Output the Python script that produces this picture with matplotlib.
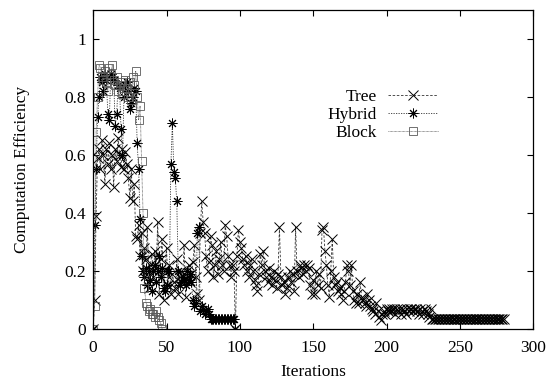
import matplotlib
matplotlib.use("Agg")
import matplotlib.pyplot as plt
import numpy as np

plt.rcParams.update({
    "font.family": ["Liberation Serif", "DejaVu Serif"],
    "font.size": 12.5,
    "axes.linewidth": 0.9,
    "xtick.direction": "in",
    "ytick.direction": "in",
    "xtick.top": True,
    "ytick.right": True,
    "xtick.major.size": 4,
    "ytick.major.size": 4,
    "xtick.major.pad": 8,
    "ytick.major.pad": 5,
})

# Computation efficiency per iteration.
tree = [
    0.00, 0.10, 0.39, 0.59, 0.62, 0.55, 0.65, 0.60, 0.50, 0.62,
    0.57, 0.64, 0.55, 0.60, 0.49, 0.62, 0.58, 0.66, 0.60, 0.56,
    0.62, 0.55, 0.61, 0.57, 0.52, 0.45, 0.55, 0.44, 0.50, 0.32,
    0.31, 0.36, 0.25, 0.33, 0.20, 0.28, 0.24, 0.35, 0.14, 0.22,
    0.26, 0.18, 0.27, 0.21, 0.37, 0.12, 0.24, 0.31, 0.10, 0.20,
    0.28, 0.15, 0.22, 0.12, 0.19, 0.16, 0.14, 0.24, 0.12, 0.18,
    0.20, 0.17, 0.29, 0.11, 0.17, 0.22, 0.16, 0.19, 0.23, 0.29,
    0.18, 0.12, 0.10, 0.33, 0.44, 0.37, 0.33, 0.25, 0.20, 0.23,
    0.32, 0.29, 0.18, 0.22, 0.27, 0.19, 0.24, 0.30, 0.22, 0.20,
    0.36, 0.32, 0.25, 0.22, 0.18, 0.22, 0.20, 0.00, 0.25, 0.34,
    0.30, 0.28, 0.24, 0.22, 0.25, 0.20, 0.18, 0.22, 0.24, 0.20,
    0.17, 0.15, 0.13, 0.19, 0.26, 0.22, 0.27, 0.20, 0.18, 0.16,
    0.21, 0.18, 0.15, 0.20, 0.17, 0.14, 0.19, 0.35, 0.18, 0.15,
    0.16, 0.12, 0.14, 0.18, 0.20, 0.16, 0.19, 0.13, 0.35, 0.20,
    0.18, 0.22, 0.21, 0.19, 0.22, 0.20, 0.22, 0.21, 0.15, 0.12,
    0.17, 0.12, 0.20, 0.15, 0.19, 0.14, 0.34, 0.35, 0.27, 0.22,
    0.15, 0.11, 0.20, 0.31, 0.18, 0.15, 0.16, 0.13, 0.14, 0.12,
    0.10, 0.13, 0.16, 0.22, 0.20, 0.15, 0.22, 0.13, 0.10, 0.09,
    0.12, 0.09, 0.16, 0.11, 0.10, 0.09, 0.08, 0.12, 0.10, 0.08,
    0.07, 0.06, 0.05, 0.09, 0.06, 0.04, 0.03, 0.05, 0.06, 0.05,
    0.07, 0.06, 0.07, 0.06, 0.07, 0.07, 0.05, 0.07, 0.06, 0.07,
    0.05, 0.07, 0.06, 0.05, 0.07, 0.06, 0.07, 0.07, 0.06, 0.07,
    0.07, 0.06, 0.05, 0.07, 0.06, 0.05, 0.07, 0.06, 0.05, 0.04,
    0.07, 0.035, 0.033, 0.033, 0.033, 0.033, 0.033, 0.033, 0.033, 0.033,
    0.033, 0.033, 0.033, 0.033, 0.033, 0.033, 0.033, 0.033, 0.033, 0.033,
    0.033, 0.033, 0.033, 0.033, 0.033, 0.033, 0.033, 0.033, 0.033, 0.033,
    0.033, 0.033, 0.033, 0.033, 0.033, 0.033, 0.033, 0.033, 0.033, 0.033,
    0.033, 0.033, 0.033, 0.033, 0.033, 0.033, 0.033, 0.033, 0.033, 0.033,
    0.033,
]

hybrid = [
    0.00, 0.36, 0.55, 0.73, 0.80, 0.87, 0.85, 0.82, 0.88, 0.86,
    0.74, 0.72, 0.88, 0.87, 0.86, 0.70, 0.74, 0.84, 0.83, 0.69,
    0.60, 0.80, 0.84, 0.85, 0.82, 0.76, 0.78, 0.80, 0.83, 0.82,
    0.64, 0.55, 0.38, 0.25, 0.20, 0.18, 0.21, 0.15, 0.20, 0.17,
    0.13, 0.20, 0.22, 0.16, 0.20, 0.25, 0.18, 0.21, 0.14, 0.13,
    0.15, 0.20, 0.20, 0.57, 0.71, 0.54, 0.52, 0.44, 0.20, 0.15,
    0.16, 0.18, 0.17, 0.15, 0.20, 0.17, 0.19, 0.16, 0.10, 0.08,
    0.09, 0.33, 0.35, 0.06, 0.08, 0.07, 0.05, 0.06, 0.07, 0.05,
    0.035, 0.033, 0.033, 0.033, 0.033, 0.033, 0.033, 0.033, 0.033, 0.033,
    0.033, 0.033, 0.033, 0.033, 0.033, 0.033, 0.033, 0.00,
]

block = [
    0.00, 0.08, 0.68, 0.80, 0.91, 0.90, 0.87, 0.86, 0.89, 0.85,
    0.82, 0.90, 0.88, 0.91, 0.86, 0.84, 0.87, 0.82, 0.84, 0.85,
    0.81, 0.83, 0.86, 0.83, 0.80, 0.85, 0.79, 0.87, 0.84, 0.89,
    0.80, 0.72, 0.77, 0.58, 0.40, 0.14, 0.09, 0.08, 0.06, 0.07,
    0.05, 0.05, 0.04, 0.06, 0.04, 0.03, 0.02, 0.00,
]

x_ticks = [0, 50, 100, 150, 200, 250, 300]
y_ticks = [0, 0.2, 0.4, 0.6, 0.8, 1.0]
y_tick_labels = ["0", "0.2", "0.4", "0.6", "0.8", "1"]

fig = plt.figure(figsize=(5.48, 3.86), dpi=100)
ax = fig.add_axes([0.170, 0.148, 0.803, 0.826])

ax.plot(np.arange(len(tree)), tree, color="0.2", lw=0.6, ls=(0, (3, 2)),
        marker="x", ms=7, mew=0.7, mec="black", label="Tree")
ax.plot(np.arange(len(hybrid)), hybrid, color="0.2", lw=0.6, ls=(0, (1.5, 1.5)),
        marker=(8, 2, 0), ms=7, mew=0.7, mec="black", label="Hybrid")
ax.plot(np.arange(len(block)), block, color="0.35", lw=0.6, ls=(0, (0.8, 0.8)),
        marker="s", ms=5.5, mew=0.6, mfc="none", mec="0.35", label="Block")

ax.set_xlim(0, 300)
ax.set_ylim(0, 1.1)
ax.set_xticks(x_ticks)
ax.set_yticks(y_ticks)
ax.set_yticklabels(y_tick_labels)
ax.set_xlabel("Iterations", labelpad=6)
ax.set_ylabel("Computation Efficiency", labelpad=25)

ax.legend(loc="upper right", bbox_to_anchor=(0.784, 0.752), frameon=False,
          markerfirst=False, handlelength=2.9, handletextpad=0.65,
          labelspacing=0.1, borderaxespad=0, borderpad=0)

fig.savefig("out.png", dpi=100)
